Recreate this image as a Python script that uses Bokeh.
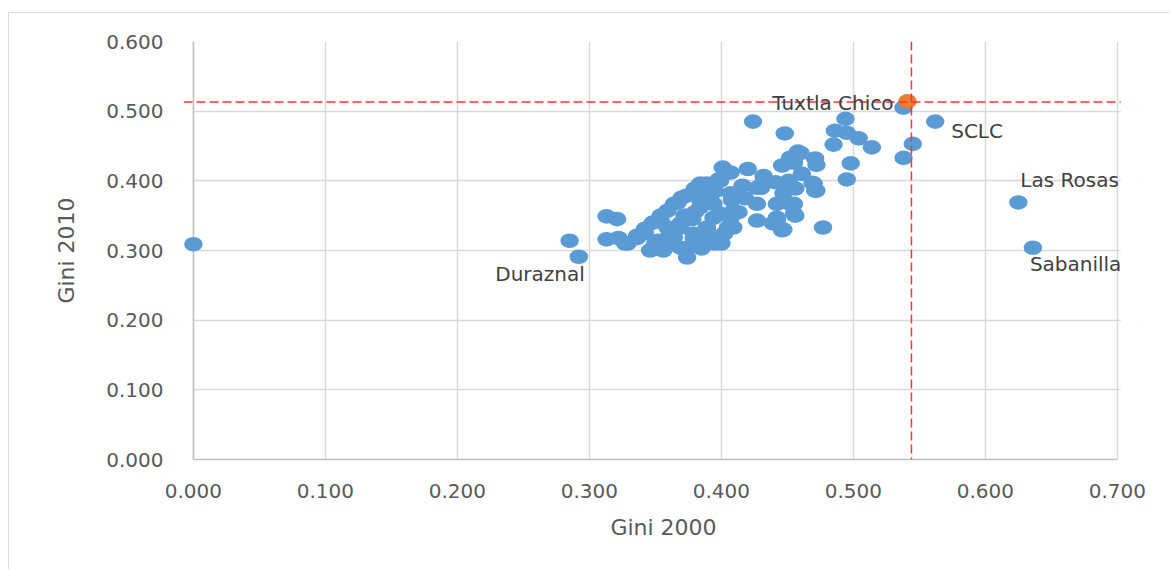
from bokeh.plotting import figure
from bokeh.layouts import column
from bokeh.models import (Range1d, FixedTicker, NumeralTickFormatter, Span,
                          BoxAnnotation, ColumnDataSource, LabelSet)
from bokeh.core.properties import value
from bokeh.embed import file_html
from bokeh.resources import INLINE

# ---------------- data ----------------
gini_2000 = [
    0.000, 0.285, 0.292, 0.313, 0.321, 0.313, 0.322, 0.329, 0.336, 0.342,
    0.348, 0.348, 0.352, 0.354, 0.356, 0.359, 0.360, 0.364, 0.364, 0.369,
    0.370, 0.374, 0.374, 0.379, 0.380, 0.384, 0.384, 0.384, 0.389, 0.389,
    0.389, 0.394, 0.399, 0.398, 0.399, 0.399, 0.401, 0.402, 0.405, 0.405,
    0.407, 0.407, 0.407, 0.408, 0.409, 0.409, 0.416, 0.420, 0.424, 0.427,
    0.427, 0.427, 0.430, 0.432, 0.432, 0.439, 0.441, 0.442, 0.442, 0.442,
    0.446, 0.446, 0.447, 0.447, 0.448, 0.451, 0.452, 0.452, 0.455, 0.455,
    0.455, 0.456, 0.456, 0.458, 0.460, 0.461, 0.469, 0.470, 0.471, 0.471,
    0.472, 0.472, 0.477, 0.485, 0.486, 0.494, 0.495, 0.495, 0.498, 0.504,
    0.514, 0.538, 0.538, 0.545, 0.562, 0.625, 0.636,
    0.327, 0.336, 0.346, 0.354, 0.359, 0.367, 0.374, 0.384, 0.389, 0.359,
    0.369, 0.379, 0.389, 0.394, 0.369, 0.342, 0.350, 0.395, 0.390, 0.378,
    0.395, 0.413, 0.418, 0.380, 0.372, 0.385, 0.400,
]
gini_2010 = [
    0.309, 0.314, 0.291, 0.349, 0.345, 0.316, 0.318, 0.310, 0.321, 0.331,
    0.340, 0.303, 0.314, 0.350, 0.300, 0.333, 0.320, 0.367, 0.319, 0.339,
    0.376, 0.304, 0.290, 0.324, 0.389, 0.396, 0.362, 0.307, 0.376, 0.333,
    0.396, 0.367, 0.353, 0.402, 0.400, 0.317, 0.419, 0.324, 0.412, 0.333,
    0.412, 0.382, 0.347, 0.372, 0.357, 0.333, 0.393, 0.417, 0.485, 0.390,
    0.367, 0.343, 0.390, 0.407, 0.400, 0.339, 0.398, 0.367, 0.347, 0.343,
    0.422, 0.329, 0.382, 0.330, 0.468, 0.400, 0.433, 0.367, 0.426, 0.367,
    0.353, 0.389, 0.350, 0.442, 0.440, 0.410, 0.397, 0.396, 0.432, 0.386,
    0.423, 0.386, 0.333, 0.452, 0.472, 0.489, 0.469, 0.402, 0.425, 0.461,
    0.448, 0.505, 0.433, 0.453, 0.485, 0.369, 0.304,
    0.310, 0.318, 0.300, 0.343, 0.357, 0.369, 0.379, 0.372, 0.382, 0.314,
    0.304, 0.318, 0.329, 0.347, 0.333, 0.325, 0.310, 0.310, 0.312, 0.345,
    0.385, 0.355, 0.375, 0.355, 0.350, 0.303, 0.310,
]

# highlighted municipality (Tuxtla Chico)
focus_x = [0.541]
focus_y = [0.514]

# reference lines
ref_x = 0.544
ref_y = 0.513

# labelled municipalities
label_names = ["Tuxtla Chico", "SCLC", "Las Rosas", "Sabanilla", "Duraznal"]
label_x = [0.541, 0.562, 0.625, 0.636, 0.292]
label_y = [0.514, 0.485, 0.369, 0.304, 0.291]

x_ticks = [0.0, 0.1, 0.2, 0.3, 0.4, 0.5, 0.6, 0.7]
y_ticks = [0.0, 0.1, 0.2, 0.3, 0.4, 0.5, 0.6]
x_title = "Gini 2000"
y_title = "Gini 2010"

# ---------------- styles ----------------
label_dx = [-14, 16, 2, -3, 6]
label_dy = [-2, -9, 22, -16, -17]   # LabelSet: positive = up
label_align = ["right", "left", "left", "left", "right"]

FONT = "DejaVu Sans"
BLUE = "#5b9bd5"
ORANGE = "#ed7d31"
GRID = "#d9d9d9"
AXIS = "#bfbfbf"
TICK_TXT = "#595959"

x_lo, x_hi = x_ticks[0], x_ticks[-1]
# frame: 960 px wide, 1320 px per unit; a little padding on both sides
p = figure(width=1160, height=556, output_backend="svg", toolbar_location=None,
           x_range=Range1d(x_lo - 0.0075, x_hi + 0.0198),
           y_range=Range1d(y_ticks[0], y_ticks[-1]),
           min_border_left=174, min_border_right=26,
           min_border_top=28, min_border_bottom=110,
           background_fill_color="white", border_fill_color="white")
p.outline_line_color = None

# axes
for ax in (p.xaxis[0], p.yaxis[0]):
    ax.major_tick_line_color = None
    ax.minor_tick_line_color = None
    ax.formatter = NumeralTickFormatter(format="0.000")
    ax.major_label_text_font = FONT
    ax.major_label_text_font_size = "20px"
    ax.major_label_text_color = TICK_TXT
    ax.axis_label_text_font = FONT
    ax.axis_label_text_font_size = "22px"
    ax.axis_label_text_font_style = "normal"
    ax.axis_label_text_color = TICK_TXT

p.xaxis.ticker = FixedTicker(ticks=x_ticks)
p.yaxis.ticker = FixedTicker(ticks=y_ticks)
p.xaxis.axis_label = x_title
p.yaxis.axis_label = y_title
p.xaxis.bounds = (x_lo, x_hi)
p.xaxis.axis_line_color = AXIS
p.xaxis.axis_line_width = 1.5
p.xaxis.major_label_standoff = 18
p.xaxis.axis_label_standoff = 14
p.yaxis.axis_line_color = None
p.yaxis.major_label_standoff = 14
p.yaxis.axis_label_standoff = 24

p.xgrid.ticker = FixedTicker(ticks=x_ticks)
p.ygrid.ticker = FixedTicker(ticks=y_ticks)
p.grid.grid_line_color = GRID
p.grid.grid_line_width = 1.5

# mask grid left of x=0 and draw the y axis line at x=0
p.add_layout(BoxAnnotation(right=x_lo, fill_color="white", fill_alpha=1.0,
                           line_alpha=0, level="underlay"))
p.add_layout(Span(location=x_lo, dimension="height", line_color=AXIS,
                  line_width=1.5, level="underlay"))

# points
p.ellipse(x=gini_2000, y=gini_2010, width=0.014, height=0.021,
          fill_color=BLUE, line_color=None)
p.ellipse(x=focus_x, y=focus_y, width=0.014, height=0.021,
          fill_color=ORANGE, line_color=None)

# reference dashed lines
p.add_layout(Span(location=ref_y, dimension="width", line_color="#ff3333",
                  line_width=1.5, line_dash="9 4"))
p.add_layout(Span(location=ref_x, dimension="height", line_color="#ff3333",
                  line_width=1.5, line_dash="9 4"))

# mask everything right of the last x tick (grid, dashed line)
p.add_layout(BoxAnnotation(left=x_hi + 0.0025, fill_color="white",
                           fill_alpha=1.0, line_alpha=0, level="annotation"))

# labels
src = ColumnDataSource(dict(x=label_x, y=label_y, t=label_names,
                            dx=label_dx, dy=label_dy, al=label_align))
p.add_layout(LabelSet(x="x", y="y", text="t", x_offset="dx", y_offset="dy",
                      text_align="al", text_baseline="middle", source=src,
                      text_font=value(FONT), text_font_size=value("20px"),
                      text_color=value("#404040")))

# outer chart border (left and top edges visible in the window)
root = column(p, styles={"margin-left": "8px", "margin-top": "12px",
                         "border-left": "1.5px solid #d9d9d9",
                         "border-top": "1.5px solid #d9d9d9"})

open("out.html", "w").write(file_html(root, INLINE))
